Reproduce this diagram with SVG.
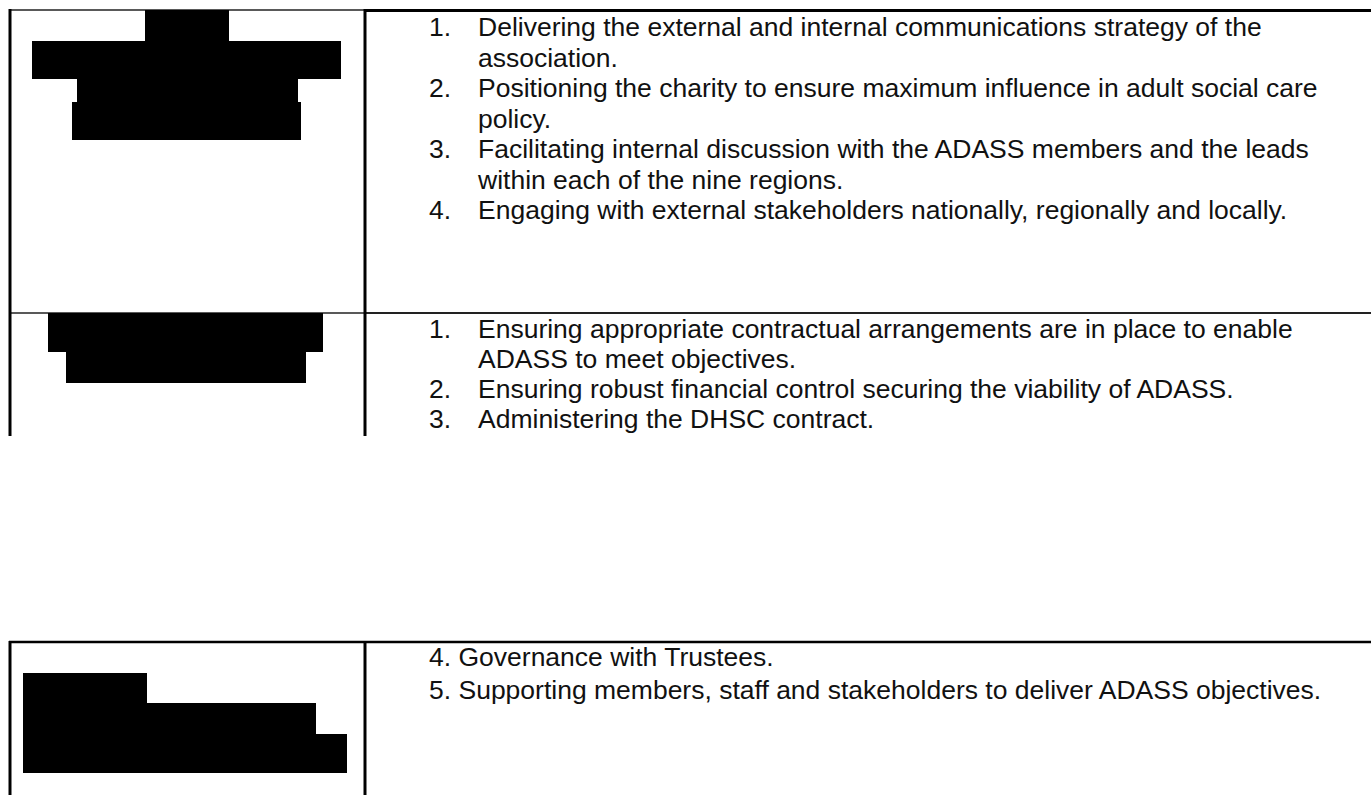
<svg xmlns="http://www.w3.org/2000/svg" width="1371" height="795" viewBox="0 0 1371 795">
<style>
  .t { font-family: "Liberation Sans", Arial, sans-serif; font-size: 26.5px; fill: #111; }
  .v { stroke: #000; stroke-width: 3; }
  .hthin { stroke: #222; stroke-width: 1.5; }
  .hthick { stroke: #000; stroke-width: 3; }
  .red { fill: #000; }
</style>
<rect width="1371" height="795" fill="#fff"/>
<g id="table-top">
  <line class="hthin" x1="9" y1="10" x2="365" y2="10"/>
  <line class="hthick" x1="365" y1="10.5" x2="1371" y2="10.5"/>
  <line class="hthin" x1="9" y1="313" x2="365" y2="313"/>
  <line class="hthin" x1="365" y1="313" x2="1371" y2="313" style="stroke-width:2"/>
  <line class="v" x1="10" y1="9" x2="10" y2="436"/>
  <line class="v" x1="365" y1="9" x2="365" y2="436"/>
</g>
<g id="row1">
  <polygon class="red" points="145,10 229,10 229,41 341,41 341,79 298,79 298,102 301,102 301,140 72,140 72,102 77,102 77,79 32,79 32,41 145,41"/>
  <g class="t">
    <text x="429" y="36">1.</text><text x="478" y="36">Delivering the external and internal communications strategy of the</text>
    <text x="478" y="66.5">association.</text>
    <text x="429" y="97">2.</text><text x="478" y="97">Positioning the charity to ensure maximum influence in adult social care</text>
    <text x="478" y="127.5">policy.</text>
    <text x="429" y="158">3.</text><text x="478" y="158">Facilitating internal discussion with the ADASS members and the leads</text>
    <text x="478" y="188.5">within each of the nine regions.</text>
    <text x="429" y="219">4.</text><text x="478" y="219">Engaging with external stakeholders nationally, regionally and locally.</text>
  </g>
</g>
<g id="row2">
  <polygon class="red" points="48,313 323,313 323,352 306,352 306,383 66,383 66,352 48,352"/>
  <g class="t">
    <text x="429" y="338">1.</text><text x="478" y="338">Ensuring appropriate contractual arrangements are in place to enable</text>
    <text x="478" y="368">ADASS to meet objectives.</text>
    <text x="429" y="398">2.</text><text x="478" y="398">Ensuring robust financial control securing the viability of ADASS.</text>
    <text x="429" y="428">3.</text><text x="478" y="428">Administering the DHSC contract.</text>
  </g>
</g>
<g id="table-bottom">
  <line class="hthick" x1="9" y1="642" x2="1371" y2="642" style="stroke-width:2.5"/>
  <line class="v" x1="10" y1="641" x2="10" y2="795"/>
  <line class="v" x1="365" y1="641" x2="365" y2="795"/>
</g>
<g id="row3">
  <polygon class="red" points="23,673 147,673 147,703 316,703 316,734 347,734 347,773 23,773"/>
  <g class="t">
    <text x="429" y="666">4. Governance with Trustees.</text>
    <text x="429" y="699">5. Supporting members, staff and stakeholders to deliver ADASS objectives.</text>
  </g>
</g>
</svg>
